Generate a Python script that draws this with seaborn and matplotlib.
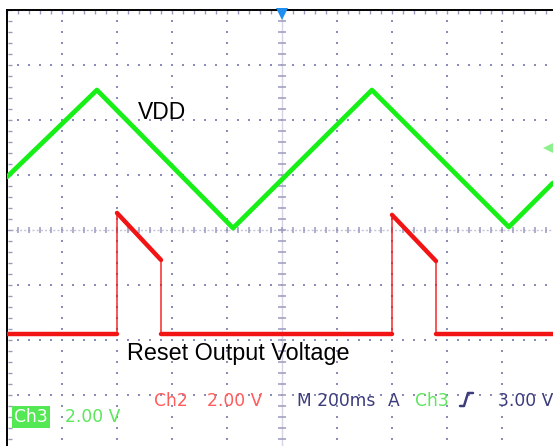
import numpy as np
import pandas as pd
import matplotlib
matplotlib.use("Agg")
import matplotlib.pyplot as plt
import seaborn as sns

# ---------------- data (time in ms relative to screen centre, volts) -------------
vdd_time_ms = [-1000, -673, -178, 327, 825, 985]
vdd_volts = [1.93, 5.09, 0.07, 5.09, 0.11, 1.71]

reset_time_ms = [-1000, -600, -600, -440, -440, 400, 400, 560, 560, 985]
reset_volts = [0.22, 0.22, 4.62, 2.91, 0.22, 0.22, 4.55, 2.87, 0.22, 0.22]

ch3_volts_per_div = 2.0
ch2_volts_per_div = 2.0
ch3_offset_div = 0.0
ch2_offset_div = -2.0
time_per_div_ms = 200
trigger_level_v = 3.0

label_vdd = "VDD"
label_reset = "Reset Output Voltage"
readout_ch2 = ("Ch2", "2.00 V")
readout_ch3 = ("Ch3", "2.00 V")
readout_time = "M 200ms"
readout_trig = ("A", "Ch3", "3.00 V")

# ---------------- figure ----------------
W, H = 553, 446
sns.set_style("white")
plt.rcParams["font.family"] = ["DejaVu Sans"]
fig = plt.figure(figsize=(W / 100, H / 100), dpi=100)
fig.patch.set_facecolor("white")

# graticule: 10 x 8 divisions; left edge at px 7, top edge at px 10
ax = fig.add_axes([7 / W, (H - 450) / H, 550 / W, 440 / H])
ax.set_xlim(-5 * time_per_div_ms, 5 * time_per_div_ms)
ax.set_ylim(-4, 4)
ax.set_xticks([])
ax.set_yticks([])
for s in ["right", "bottom"]:
    ax.spines[s].set_visible(False)
for s in ["left", "top"]:
    ax.spines[s].set_color("black")
    ax.spines[s].set_linewidth(1.4)

dot_col = "#8c8cb8"
tick_col = "#9a9ac0"
minor_x = np.arange(-1000, 1000.1, time_per_div_ms / 5)
minor_y = np.arange(-4, 4.01, 0.2)
major_x = [t for t in np.arange(-800, 1000.1, time_per_div_ms) if t != 0]
major_y = [v for v in range(-3, 4) if v != 0]

gx, gy = [], []
for xv in major_x:
    gx += [xv] * len(minor_y)
    gy += list(minor_y)
for yv in major_y:
    gx += list(minor_x)
    gy += [yv] * len(minor_x)
ax.scatter(gx, gy, s=1.6, marker="s", color=dot_col, linewidths=0, zorder=1)

# centre crosshair
ax.axvline(0, color="#d4d4e4", lw=1.0, zorder=1)
ax.axhline(0, color="#c4c4da", lw=1.0, ls=(0, (1.5, 1.5)), zorder=1)
ax.plot(np.zeros_like(minor_y), minor_y, ls="none", marker="_", ms=6,
        mew=1.1, color=tick_col, zorder=1)
ax.plot(minor_x, np.zeros_like(minor_x), ls="none", marker="|", ms=5,
        mew=1.1, color=tick_col, zorder=1)
# border ticks
ax.plot(minor_x, np.full_like(minor_x, 4 - 2.2 / 55), ls="none", marker="|",
        ms=2.2, mew=1.0, color=tick_col, zorder=1)
ax.plot(np.full_like(minor_y, -1000 + 2.5 * 200 / 55), minor_y, ls="none",
        marker="_", ms=2.5, mew=1.0, color=tick_col, zorder=1)

# ---------------- traces ----------------
green = "#16f016"
red = "#f21414"

vdd_df = pd.DataFrame({"t": vdd_time_ms,
                       "y": np.array(vdd_volts) / ch3_volts_per_div + ch3_offset_div})
sns.lineplot(data=vdd_df, x="t", y="y", estimator=None, sort=False,
             color=green, lw=3.4, ax=ax, zorder=4)

reset_df = pd.DataFrame({"t": reset_time_ms,
                         "y": np.array(reset_volts) / ch2_volts_per_div + ch2_offset_div})
sns.lineplot(data=reset_df, x="t", y="y", estimator=None, sort=False,
             color=red, lw=1.0, ax=ax, zorder=3)
# thick (noisy) parts: break the trace at the vertical edges
seg = np.concatenate([[0], np.cumsum(np.diff(reset_df["t"].values) == 0)])
rows = []
for i in range(len(reset_df) - 1):
    if reset_df["t"].iloc[i] != reset_df["t"].iloc[i + 1]:
        rows.append((reset_df["t"].iloc[i], reset_df["y"].iloc[i], i))
        rows.append((reset_df["t"].iloc[i + 1], reset_df["y"].iloc[i + 1], i))
thick_df = pd.DataFrame(rows, columns=["t", "y", "seg"])
sns.lineplot(data=thick_df, x="t", y="y", units="seg", estimator=None, sort=False,
             color=red, lw=3.2, ax=ax, zorder=3)

ax.set_xlabel("")
ax.set_ylabel("")

# markers: trigger position (top) and trigger level (right)
ax.plot([0], [4 - 3.5 / 55], marker="v", ms=8, color="#1e8ff0", mew=0,
        clip_on=False, zorder=6)
ax.plot([(549 - 282) / 55 * time_per_div_ms],
        [trigger_level_v / ch3_volts_per_div + ch3_offset_div],
        marker="<", ms=9, color="#8cf08c", mew=0, clip_on=False, zorder=6)

# ---------------- labels ----------------
lab_font = ["Liberation Sans", "DejaVu Sans"]
ax.text((138 - 282) / 55 * time_per_div_ms, 4 - (119 - 10) / 55, label_vdd,
        fontsize=16.5, family=lab_font, color="black", va="baseline", ha="left",
        zorder=7)
ax.text((127 - 282) / 55 * time_per_div_ms, 4 - (360 - 10) / 55, label_reset,
        fontsize=16.8, family=lab_font, color="black", va="baseline", ha="left",
        zorder=7)


def ftxt(px, py, s, color, **kw):
    fig.text(px / W, 1 - py / H, s, color=color, fontsize=12.3,
             va="baseline", ha="left", **kw)


red_txt = "#ff5c5c"
green_txt = "#5ce65c"
navy = "#3c3c7c"
ftxt(154, 406, readout_ch2[0], red_txt)
ftxt(207, 406, readout_ch2[1], red_txt)
ftxt(297, 406, readout_time, navy)
ftxt(388, 406, readout_trig[0], navy)
ftxt(415, 406, readout_trig[1], green_txt)
ftxt(498, 406, readout_trig[2], navy)
ftxt(14, 422, readout_ch3[0], "white",
     bbox=dict(boxstyle="square,pad=0.12", fc="#55e855", ec="none"))
ftxt(65, 422, readout_ch3[1], green_txt)

# rising-edge trigger symbol
sym_x = np.array([460, 464, 468, 473]) / W
sym_y = 1 - np.array([406, 406, 393, 393]) / H
fig.add_artist(plt.Line2D(sym_x, sym_y, color=navy, lw=1.8,
                          transform=fig.transFigure))

fig.savefig("out.png", dpi=100, facecolor="white")
